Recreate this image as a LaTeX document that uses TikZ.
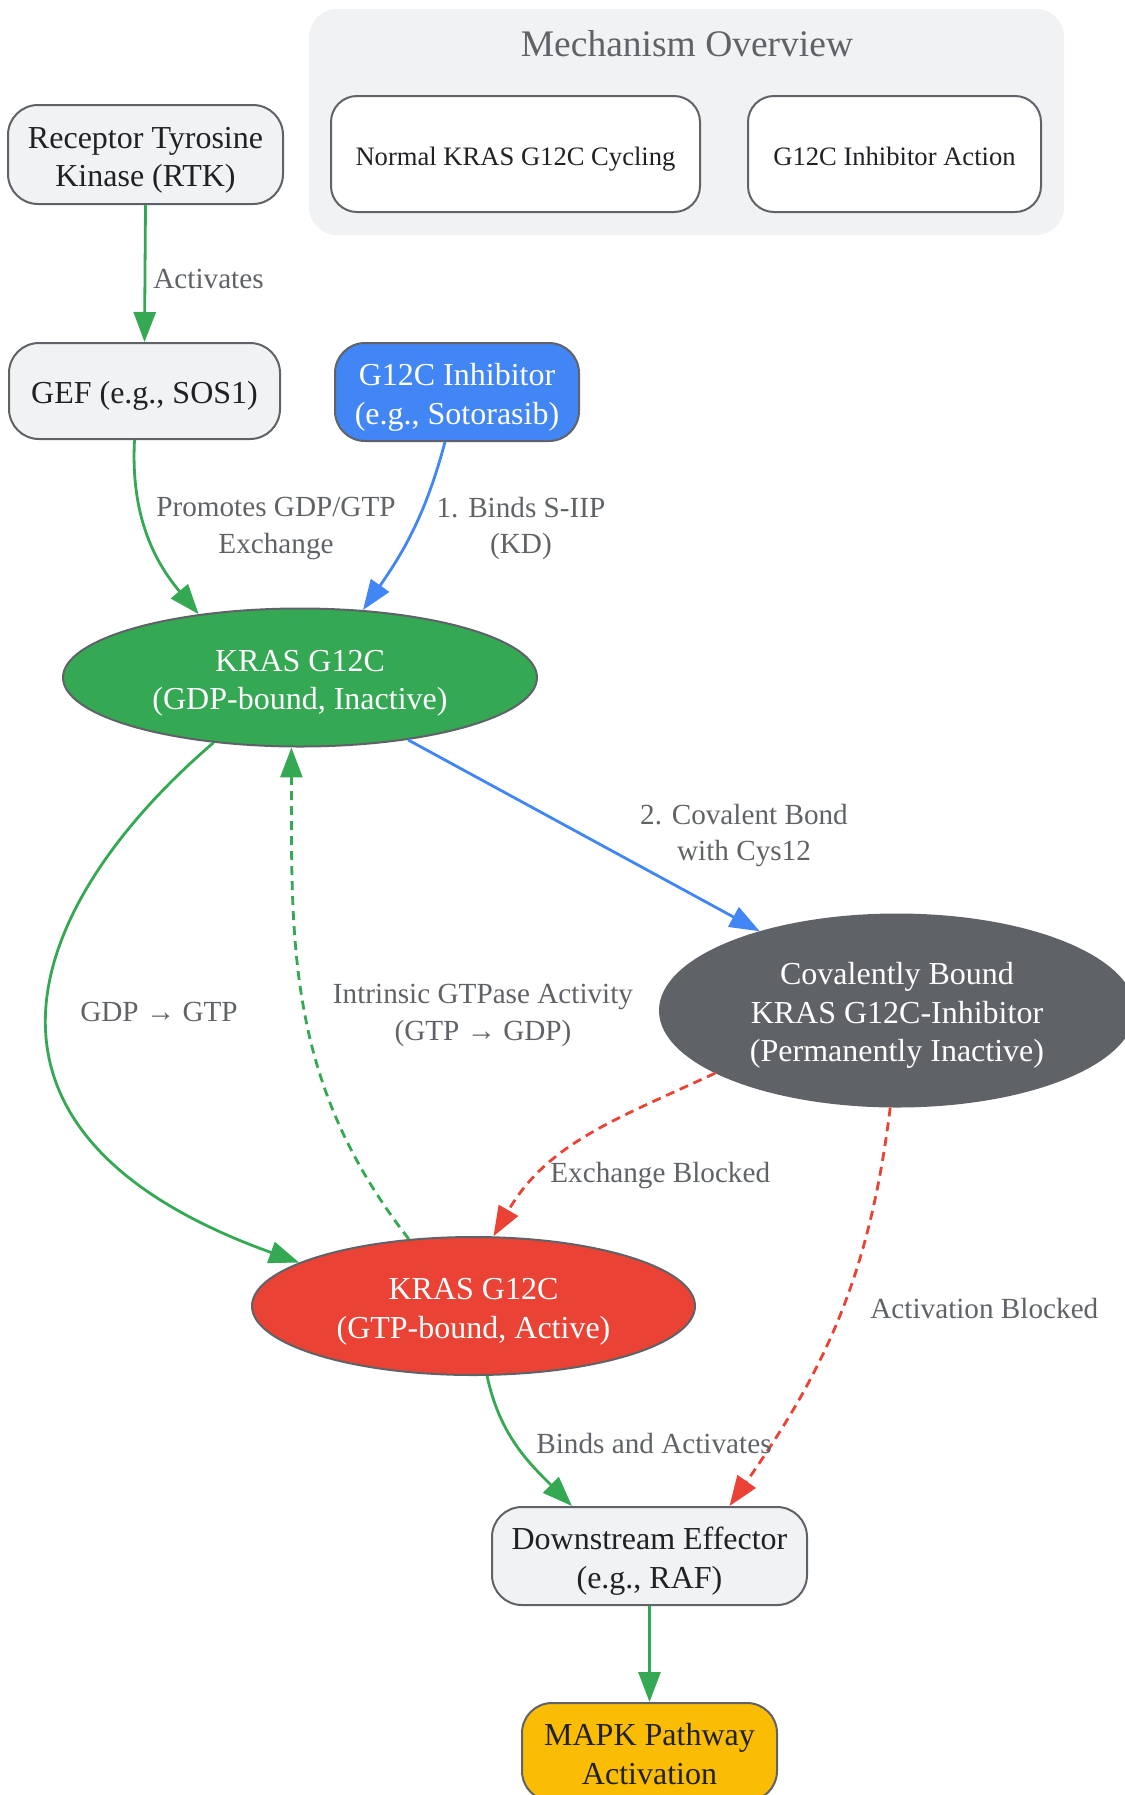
\documentclass[tikz,border=0pt]{standalone}
\usepackage{fontspec}
\setmainfont{Liberation Serif}
\usetikzlibrary{shapes.geometric, arrows.meta, positioning}
\definecolor{krasgreen}{HTML}{34A853}
\definecolor{inhblue}{HTML}{4285F4}
\definecolor{actred}{HTML}{EA4335}
\definecolor{mapkyellow}{HTML}{FBBC04}
\definecolor{darkgray1}{HTML}{5F6368}
\definecolor{panelgray}{HTML}{F1F2F4}
\definecolor{textdark}{HTML}{202124}
\newsavebox\nodebox
% node text, set a little below the box centre
\newcommand{\ntext}[1]{\sbox\nodebox{\begin{tabular}{@{}c@{}}#1\end{tabular}}\raisebox{-2.6pt}[\ht\nodebox][\dp\nodebox]{\usebox\nodebox}}

\begin{document}
\begin{tikzpicture}[
  x=0.5pt, y=0.5pt,
  pbox/.style={draw=darkgray1, line width=1pt, rounded corners=15pt, inner sep=0pt, text=textdark, font=\fontsize{16}{19.2}\selectfont},
  kras/.style={ellipse, draw=darkgray1, line width=1pt, inner sep=0pt, text=white, font=\fontsize{16}{19.2}\selectfont},
  lbl/.style={text=darkgray1, align=center, inner sep=0pt, font=\fontsize{14.6}{18.3}\selectfont},
  flow/.style={line width=1.4pt, -{Triangle[length=15pt, width=11pt]}},
  blocked/.style={flow, dash pattern=on 4.5pt off 3pt}
]
  \useasboundingbox (0,0) rectangle (1125,-1795);

  % overview panel
  \fill[panelgray, rounded corners=14pt] (309,-9) rectangle (1064,-235);
  \node[text=darkgray1, font=\fontsize{18.75}{22}\selectfont] (mech) at (687,-44) {Mechanism Overview};
  \node[pbox, fill=white, rounded corners=13pt, minimum width=184.5pt, minimum height=58pt, font=\fontsize{13.3}{16}\selectfont] (normal) at (515.5,-154) {\ntext{Normal KRAS G12C Cycling}};
  \node[pbox, fill=white, rounded corners=13pt, minimum width=146.5pt, minimum height=58pt, font=\fontsize{13.3}{16}\selectfont] (action) at (894.5,-154) {\ntext{G12C Inhibitor Action}};

  % nodes
  \node[pbox, fill=panelgray, minimum width=137.5pt, minimum height=49.5pt] (rtk) at (145.5,-154.5) {\ntext{Receptor Tyrosine\\Kinase (RTK)}};
  \node[pbox, fill=panelgray, minimum width=135.5pt, minimum height=48pt] (gef) at (144.5,-391) {\ntext{GEF (e.g., SOS1)}};
  \node[pbox, fill=inhblue, text=white, minimum width=122pt, minimum height=49pt] (inhib) at (457,-392) {\ntext{G12C Inhibitor\\(e.g., Sotorasib)}};
  \node[kras, fill=krasgreen, minimum width=237pt, minimum height=69pt] (kgdp) at (300,-677.5) {\ntext{KRAS G12C\\(GDP-bound, Inactive)}};
  \node[kras, fill=darkgray1, minimum width=237pt, minimum height=96pt] (cov) at (897,-1010.5) {\ntext{Covalently Bound\\KRAS G12C-Inhibitor\\(Permanently Inactive)}};
  \node[kras, fill=actred, minimum width=221.5pt, minimum height=69pt] (kgtp) at (473.5,-1306) {\ntext{KRAS G12C\\(GTP-bound, Active)}};
  \node[pbox, fill=panelgray, minimum width=157.5pt, minimum height=49pt] (effector) at (649.5,-1556) {\ntext{Downstream Effector\\(e.g., RAF)}};
  \node[pbox, fill=mapkyellow, minimum width=127.5pt, minimum height=49pt] (mapk) at (649.5,-1752) {\ntext{MAPK Pathway\\Activation}};

  % connectors
  \draw[flow, krasgreen] (rtk.south) -- (gef.north);
  \draw[flow, krasgreen] ([xshift=-5pt]gef.south) to[out=-93, in=130] (kgdp.148);
  \draw[flow, inhblue] ([xshift=-6pt]inhib.south) to[out=-105, in=55] (kgdp.47);
  \draw[flow, inhblue] (kgdp.-30) -- (cov.150);
  \draw[flow, krasgreen] (kgdp.-143) .. controls (30,-900) and (-70,-1130) .. (kgtp.166);
  \draw[blocked, krasgreen] (kgtp.134) to[out=128, in=-90] (kgdp.-97);
  \draw[blocked, actred] (cov.-161) to[out=-155, in=60] (kgtp.74);
  \draw[blocked, actred] (cov.-94) to[out=-97, in=55] ([xshift=40pt]effector.north);
  \draw[flow, krasgreen] (kgtp.-79) to[out=-78, in=135] ([xshift=-38.75pt]effector.north);
  \draw[flow, krasgreen] (effector.south) -- (mapk.north);

  % labels
  \node[lbl, anchor=west] (lactivates) at (153,-279) {Activates};
  \node[lbl] (lpromotes) at (276,-528.5) {Promotes GDP/GTP\\Exchange};
  \node[lbl] (lbinds) at (521,-528.5) {1. Binds S-IIP\\(KD)};
  \node[lbl] (lcovalent) at (744,-835.5) {2. Covalent Bond\\with Cys12};
  \node[lbl] (lgdpgtp) at (159,-1012) {GDP → GTP};
  \node[lbl] (lgtpase) at (483,-1015.5) {Intrinsic GTPase Activity\\(GTP → GDP)};
  \node[lbl, anchor=west] (lexchange) at (550,-1176) {Exchange Blocked};
  \node[lbl, anchor=west] (lactivation) at (870,-1308) {Activation Blocked};
  \node[lbl, anchor=west] (lbindsact) at (536,-1443) {Binds and Activates};
\end{tikzpicture}
\end{document}
